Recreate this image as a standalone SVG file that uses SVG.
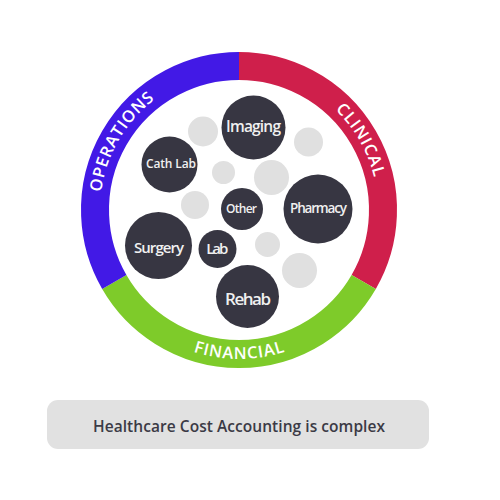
<svg xmlns="http://www.w3.org/2000/svg" width="500" height="500" viewBox="0 0 500 500">
<defs>
<style>
.seg{fill:none;stroke-width:28}
.ring{font-family:"Open Sans","Noto Sans",sans-serif;font-size:16.5px;font-weight:600;fill:#ffffff}
.node{fill:#373642}
.bub{fill:#e0e0e0}
.lbl{font-family:"Open Sans","Noto Sans",sans-serif;font-weight:600;fill:#f0f0f0;text-anchor:middle}
</style>
<path id="pOps" d="M118.6,279.5 A139,139 0 0 1 239,71"/>
<path id="pCli" d="M239,71 A139,139 0 0 1 359.4,279.5"/>
<path id="pFin" d="M110,284.5 A149,149 0 0 0 368,284.5"/>
</defs>
<rect width="500" height="500" fill="#ffffff"/>
<g id="ring">
<path class="seg" stroke="#cf1f4b" d="M239,66 A144,144 0 0 1 363.7,282"/>
<path class="seg" stroke="#7ecb2a" d="M363.7,282 A144,144 0 0 1 114.3,282"/>
<path class="seg" stroke="#4219e6" d="M114.3,282 A144,144 0 0 1 239,66"/>
<text class="ring"><textPath href="#pOps" startOffset="50%" text-anchor="middle" textLength="110">OPERATIONS</textPath></text>
<text class="ring"><textPath href="#pCli" startOffset="50%" text-anchor="middle" textLength="79">CLINICAL</textPath></text>
<text class="ring"><textPath href="#pFin" startOffset="50%" text-anchor="middle" textLength="93">FINANCIAL</textPath></text>
</g>
<g id="bubbles">
<circle class="bub" cx="203" cy="131.5" r="15"/>
<circle class="bub" cx="223.5" cy="172.5" r="11.5"/>
<circle class="bub" cx="195" cy="205" r="14"/>
<circle class="bub" cx="308.5" cy="142" r="14.5"/>
<circle class="bub" cx="271.5" cy="177.5" r="17.5"/>
<circle class="bub" cx="267.5" cy="244.5" r="12.5"/>
<circle class="bub" cx="299.5" cy="270.5" r="17.5"/>
</g>
<g id="imaging"><circle class="node" cx="253.5" cy="127.5" r="32"/><text class="lbl" x="253.5" y="131.7" font-size="15.5" textLength="55">Imaging</text></g>
<g id="cathlab"><circle class="node" cx="169.5" cy="164.5" r="28"/><text class="lbl" x="171" y="168.3" font-size="12" textLength="50">Cath Lab</text></g>
<g id="other"><circle class="node" cx="242" cy="209" r="21"/><text class="lbl" x="241.5" y="213.3" font-size="12" textLength="31">Other</text></g>
<g id="pharmacy"><circle class="node" cx="318" cy="209" r="34.5"/><text class="lbl" x="318.5" y="212.7" font-size="13.5" textLength="57">Pharmacy</text></g>
<g id="surgery"><circle class="node" cx="158.5" cy="245.5" r="33.5"/><text class="lbl" x="159" y="252.7" font-size="15" textLength="50">Surgery</text></g>
<g id="lab"><circle class="node" cx="217.5" cy="249" r="19"/><text class="lbl" x="217.3" y="254.3" font-size="15" textLength="22">Lab</text></g>
<g id="rehab"><circle class="node" cx="247.5" cy="296.5" r="31.5"/><text class="lbl" x="248" y="305" font-size="17" textLength="46">Rehab</text></g>
<g id="caption">
<rect x="47" y="400" width="382" height="49" rx="11" fill="#e1e1e1"/>
<text x="239" y="432" font-family="'Open Sans','Noto Sans',sans-serif" font-size="15.5" font-weight="600" fill="#3b3a45" text-anchor="middle" textLength="292">Healthcare Cost Accounting is complex</text>
</g>
</svg>
